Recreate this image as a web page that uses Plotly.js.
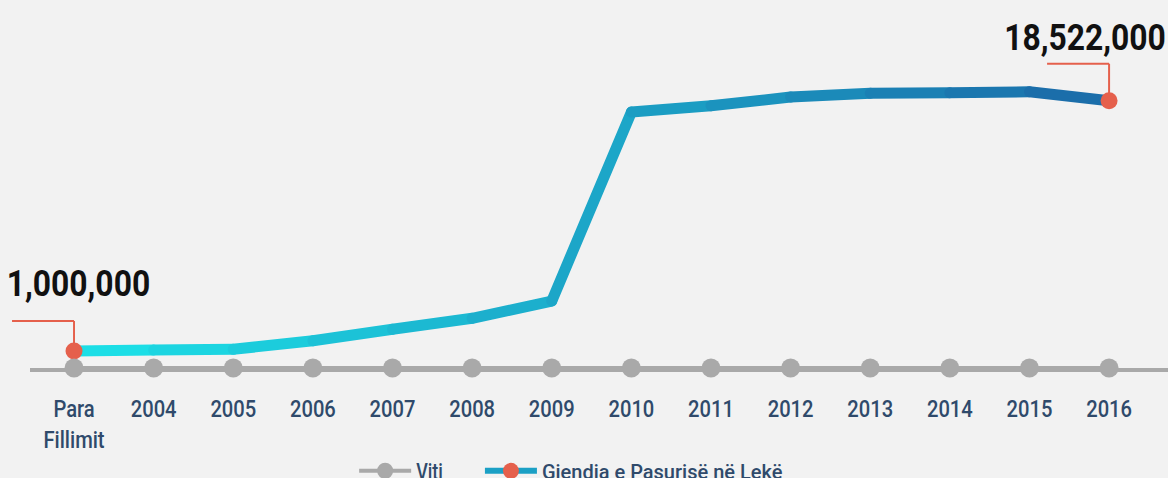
<!DOCTYPE html>
<html>
<head>
<meta charset="utf-8">
<script src="https://cdn.plot.ly/plotly-3.0.1.min.js"></script>
<style>
  html, body { margin: 0; padding: 0; background: #f2f2f2; }
  #chart { width: 1168px; height: 478px; }
  .scatterlayer .js-line { stroke-linecap: round; stroke-linejoin: round; }
</style>
</head>
<body>
<div id="chart"></div>
<script>
// ---- data ----
const categories = ["Para<br>Fillimit", "2004", "2005", "2006", "2007", "2008", "2009",
                    "2010", "2011", "2012", "2013", "2014", "2015", "2016"];
const vitiValues = [0, 0, 0, 0, 0, 0, 0, 0, 0, 0, 0, 0, 0, 0];
const pasuriaValues = [1000000, 1070000, 1120000, 1720000, 2520000, 3290000, 4500000,
                       17730000, 18170000, 18780000, 19040000, 19080000, 19150000, 18522000];
const seriesNames = ["Viti", "Gjendja e Pasurisë në Lekë"];
const labelFirst = "1,000,000";
const labelLast = "18,522,000";

// ---- styles ----
const FONT = 'Roboto, "Liberation Sans", sans-serif';
const textColor = '#2f4a6b';
const gray = '#a9a9a9';
const red = '#e5604c';
const cStart = [28, 227, 232];
const cEnd = [27, 105, 168];
function mix(t) {
  const c = cStart.map((s, i) => Math.round(s + (cEnd[i] - s) * t));
  return 'rgb(' + c.join(',') + ')';
}

const xIdx = categories.map((_, i) => i);
const n = categories.length;
const xRange = [-0.553, 13.74];
const traces = [];

traces.push({
  x: xIdx, y: vitiValues, yaxis: 'y2', name: seriesNames[0], legend: 'legend',
  mode: 'lines+markers', line: { color: gray, width: 4 },
  marker: { color: gray, size: 19 }, cliponaxis: false, hoverinfo: 'skip'
});

for (let i = 0; i < n - 1; i++) {
  traces.push({
    x: [xIdx[i], xIdx[i + 1]], y: [pasuriaValues[i], pasuriaValues[i + 1]],
    mode: 'lines', showlegend: false, hoverinfo: 'skip', cliponaxis: false,
    line: { color: mix((i + 0.5) / (n - 1)), width: 11 }
  });
}

const endY = pasuriaValues.map((v, i) => (i === 0 || i === n - 1) ? v : null);
traces.push({
  x: xIdx, y: endY, name: seriesNames[1], legend: 'legend2',
  mode: 'lines+markers', connectgaps: false,
  line: { color: mix(0.55), width: 6 }, marker: { color: red, size: 17 },
  cliponaxis: false, hoverinfo: 'skip'
});

const first = 0, last = n - 1;
// position of a category on the x axis, as a fraction of the plot width
const xFrac = i => (xIdx[i] - xRange[0]) / (xRange[1] - xRange[0]);
const connector = (i, x0, y0, x1, y1) => ({
  type: 'line', xref: 'paper', yref: 'y', xsizemode: 'pixel', ysizemode: 'pixel',
  xanchor: xFrac(i), yanchor: pasuriaValues[i], x0: x0, y0: y0, x1: x1, y1: y1,
  line: { color: red, width: 2 }, layer: 'below'
});

const legendBase = {
  orientation: 'h', xref: 'container', yref: 'container',
  xanchor: 'left', y: 0.015, yanchor: 'middle', itemwidth: 52,
  font: { size: 23, color: textColor, family: FONT, weight: 500 }, bgcolor: 'rgba(0,0,0,0)'
};

const layout = {
  width: 1168, height: 478,
  paper_bgcolor: '#f2f2f2', plot_bgcolor: '#f2f2f2',
  margin: { l: 30, r: 0, t: 20, b: 110, autoexpand: false },
  font: { family: FONT, color: textColor },
  showlegend: true,
  legend: Object.assign({}, legendBase, { x: 0.3032 }),
  legend2: Object.assign({}, legendBase, {
    x: 0.4109, font: { size: 20, color: textColor, family: FONT, weight: 500 }
  }),
  xaxis: {
    type: 'linear', range: xRange,
    tickmode: 'array', tickvals: xIdx, ticktext: categories,
    showgrid: false, zeroline: false, showline: true, linecolor: gray, linewidth: 4,
    ticks: '', ticklabelstandoff: 16,
    tickfont: { size: 24, color: textColor, family: FONT, weight: 500 }
  },
  yaxis: {
    range: [-189000, 24172000], visible: false, showgrid: false, zeroline: false
  },
  yaxis2: {
    overlaying: 'y', range: [0, 1], visible: false, showgrid: false, zeroline: false
  },
  shapes: [
    connector(first, -62, 30, 0, 30),
    connector(first, 0, 30, 0, 0),
    connector(last, -62, 37, 0, 37),
    connector(last, 0, 37, 0, 0)
  ],
  annotations: [
    { x: first, y: pasuriaValues[first], xref: 'x', yref: 'y', text: labelFirst,
      showarrow: false, xshift: 4, yshift: 68,
      font: { size: 37, color: '#111111', family: FONT, weight: 'bold' } },
    { x: last, y: pasuriaValues[last], xref: 'x', yref: 'y', text: labelLast,
      showarrow: false, xshift: -24, yshift: 63,
      font: { size: 37, color: '#111111', family: FONT, weight: 'bold' } }
  ]
};

// condense text horizontally (the original uses a narrow typeface)
function condense(sel, factor) {
  document.querySelectorAll(sel).forEach(t => {
    const lines = t.querySelectorAll('tspan.line');
    const targets = lines.length ? Array.from(lines) : [t];
    targets.forEach(el => {
      if (el.getAttribute('textLength')) return;
      const len = el.getComputedTextLength();
      if (len > 0) {
        el.setAttribute('textLength', (len * factor).toFixed(1));
        el.setAttribute('lengthAdjust', 'spacingAndGlyphs');
      }
    });
  });
}
// left-anchored legend texts: squeeze about their start point
function condenseLegend(factor) {
  document.querySelectorAll('text.legendtext').forEach(t => {
    if (t.getAttribute('data-squeezed')) return;
    const x0 = parseFloat(t.getAttribute('x') || '0');
    const prev = t.getAttribute('transform') || '';
    t.setAttribute('transform', prev + ' translate(' + x0 + ',0) scale(' + factor + ',1) translate(' + (-x0) + ',0)');
    t.setAttribute('data-squeezed', '1');
  });
}
function condenseAll() {
  condense('.xtick text', 0.84);
  condense('.annotation-text', 0.86);
  condenseLegend(0.78);
}

const gd = document.getElementById('chart');
Plotly.newPlot(gd, traces, layout, { displayModeBar: false, staticPlot: true }).then(() => {
  condenseAll();
  setTimeout(condenseAll, 30);
  setTimeout(condenseAll, 150);
});
</script>
</body>
</html>
